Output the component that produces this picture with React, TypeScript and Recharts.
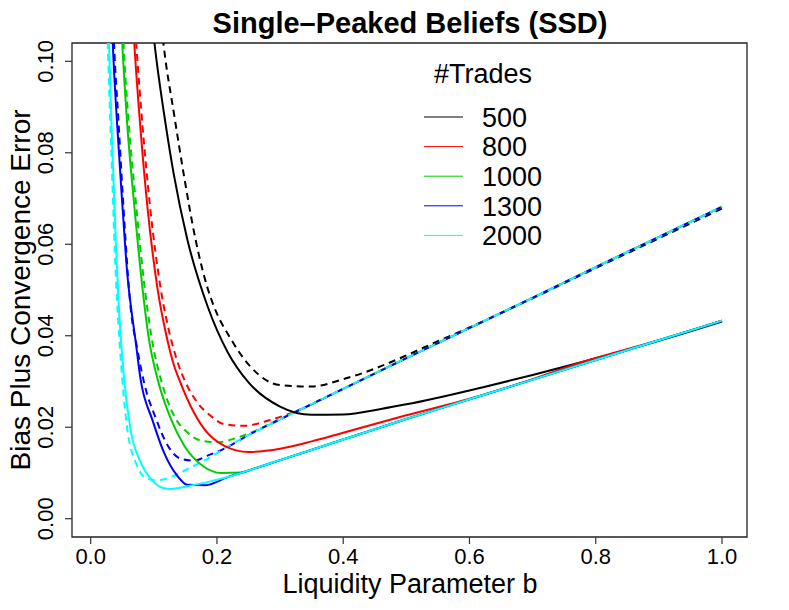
import React from "react";
import { LineChart, Line, XAxis, YAxis, ReferenceArea } from "recharts";

// axis ranges (R-style 4% padding around 0.01..1 and 0..0.10)
const xMin = -0.0296;
const xMax = 1.0396;
const yMin = -0.004;
const yMax = 0.104;

const xTicks = [0, 0.2, 0.4, 0.6, 0.8, 1.0];
const yTicks = [0, 0.02, 0.04, 0.06, 0.08, 0.1];

const tradeCounts = ["500", "800", "1000", "1300", "2000"];
const seriesColors = ["#000000", "#FF0000", "#00CD00", "#0000FF", "#00FFFF"];

// [b, error]; solid = one estimator, dashed = the other
const solid500 = [
  [0.09, 0.119], [0.101, 0.104], [0.119, 0.086], [0.132, 0.075], [0.153, 0.0611],
  [0.185, 0.0465], [0.217, 0.0364], [0.25, 0.0298], [0.3, 0.0245], [0.35, 0.0227],
  [0.4, 0.0228], [0.46, 0.024], [0.5, 0.025], [0.62, 0.0287], [0.7, 0.0314],
  [0.78, 0.0343], [0.9, 0.0389], [1.0, 0.0431],
];
const dashed500 = [
  [0.105, 0.118], [0.116, 0.103], [0.132, 0.0885], [0.148, 0.0748], [0.166, 0.0611],
  [0.185, 0.0505], [0.195, 0.0465], [0.222, 0.0393], [0.254, 0.0331], [0.3, 0.0292],
  [0.35, 0.0289], [0.4, 0.0305], [0.45, 0.0328], [0.5, 0.0357], [0.55, 0.0388],
  [0.6, 0.0418], [0.7, 0.0482], [0.8, 0.0548], [0.9, 0.0613], [1.0, 0.0678],
];
const solid800 = [
  [0.062, 0.121], [0.069, 0.104], [0.079, 0.085], [0.09, 0.068], [0.106, 0.0502],
  [0.12, 0.04], [0.132, 0.0335], [0.14, 0.0305], [0.158, 0.0247], [0.18, 0.0196],
  [0.211, 0.016], [0.25, 0.0146], [0.3, 0.0153], [0.35, 0.0169], [0.4, 0.0188],
  [0.46, 0.0211], [0.5, 0.0226], [0.62, 0.027], [0.7, 0.0305], [0.78, 0.0343],
  [0.9, 0.039], [1.0, 0.0433],
];
const dashed800 = [
  [0.064, 0.12], [0.072, 0.104], [0.082, 0.086], [0.094, 0.0683], [0.111, 0.0502],
  [0.125, 0.0405], [0.137, 0.0345], [0.148, 0.0305], [0.169, 0.0254], [0.19, 0.0225],
  [0.211, 0.0207], [0.243, 0.0203], [0.28, 0.0214], [0.32, 0.0232], [0.4, 0.0284],
  [0.5, 0.0351], [0.6, 0.0417], [0.7, 0.0483], [0.8, 0.055], [0.9, 0.0616], [1.0, 0.0682],
];
const solid1000 = [
  [0.045, 0.12], [0.05, 0.104], [0.058, 0.086], [0.068, 0.07], [0.08, 0.053],
  [0.092, 0.0395], [0.106, 0.0305], [0.127, 0.0218], [0.148, 0.016], [0.18, 0.0113],
  [0.206, 0.01], [0.238, 0.0101], [0.26, 0.011], [0.3, 0.0128], [0.4, 0.0173],
  [0.5, 0.0218], [0.6, 0.0261], [0.7, 0.0304], [0.8, 0.0347], [0.9, 0.039], [1.0, 0.0433],
];
const dashed1000 = [
  [0.047, 0.12], [0.052, 0.104], [0.06, 0.087], [0.071, 0.07], [0.083, 0.0535],
  [0.096, 0.04], [0.114, 0.0291], [0.132, 0.0225], [0.153, 0.0189], [0.174, 0.0171],
  [0.201, 0.0167], [0.227, 0.0175], [0.25, 0.0186], [0.3, 0.0218], [0.4, 0.0284],
  [0.5, 0.0351], [0.6, 0.0417], [0.7, 0.0483], [0.8, 0.055], [0.9, 0.0616], [1.0, 0.0682],
];
const solid1300 = [
  [0.031, 0.12], [0.035, 0.104], [0.042, 0.086], [0.05, 0.069], [0.058, 0.0535],
  [0.066, 0.044], [0.071, 0.039], [0.079, 0.0305], [0.098, 0.0215], [0.116, 0.0145],
  [0.137, 0.0094], [0.153, 0.0074], [0.18, 0.0073], [0.217, 0.0091], [0.26, 0.011],
  [0.3, 0.0128], [0.4, 0.0173], [0.5, 0.0218], [0.6, 0.0261], [0.7, 0.0304],
  [0.8, 0.0347], [0.9, 0.039], [1.0, 0.0433],
];
const dashed1300 = [
  [0.033, 0.12], [0.037, 0.104], [0.044, 0.087], [0.052, 0.068], [0.063, 0.0465],
  [0.074, 0.037], [0.085, 0.0295], [0.103, 0.022], [0.122, 0.016], [0.143, 0.0131],
  [0.164, 0.0127], [0.185, 0.0138], [0.21, 0.0152], [0.25, 0.0183], [0.3, 0.0217],
  [0.4, 0.0284], [0.5, 0.0351], [0.6, 0.0417], [0.7, 0.0483], [0.8, 0.055],
  [0.9, 0.0616], [1.0, 0.0682],
];
const solid2000 = [
  [0.026, 0.12], [0.029, 0.104], [0.033, 0.086], [0.037, 0.071], [0.04, 0.06],
  [0.044, 0.048], [0.048, 0.039], [0.053, 0.0305], [0.063, 0.0196], [0.079, 0.0124],
  [0.1, 0.008], [0.115, 0.0067], [0.127, 0.0065], [0.153, 0.0071], [0.185, 0.008],
  [0.217, 0.0091], [0.26, 0.011], [0.3, 0.0128], [0.4, 0.0173], [0.5, 0.0218],
  [0.6, 0.0261], [0.7, 0.0304], [0.8, 0.0347], [0.9, 0.039], [1.0, 0.0433],
];
const dashed2000 = [
  [0.024, 0.12], [0.027, 0.104], [0.031, 0.087], [0.035, 0.071], [0.038, 0.059],
  [0.042, 0.047], [0.046, 0.038], [0.05, 0.0305], [0.058, 0.0196], [0.071, 0.0124],
  [0.09, 0.0087], [0.106, 0.0084], [0.132, 0.0094], [0.158, 0.0112], [0.185, 0.0131],
  [0.21, 0.0152], [0.25, 0.0183], [0.3, 0.0217], [0.4, 0.0284], [0.5, 0.0351],
  [0.6, 0.0417], [0.7, 0.0483], [0.8, 0.055], [0.9, 0.0616], [1.0, 0.0682],
];

const solidSeries = [solid500, solid800, solid1000, solid1300, solid2000];
const dashedSeries = [dashed500, dashed800, dashed1000, dashed1300, dashed2000];

const W = 789;
const H = 610;
const FONT = '"Liberation Sans", Arial, Helvetica, sans-serif';

const toRows = (pts: number[][]) => pts.map(([b, v]) => ({ b, v }));

const XTick = (props: any) => {
  const { x, y, payload } = props;
  return (
    <text x={x} y={y} dy={18} textAnchor="middle" fontSize={22} fill="#000" fontFamily={FONT}>
      {Number(payload.value).toFixed(1)}
    </text>
  );
};

const YTick = (props: any) => {
  const { y, payload } = props;
  const bx = 53;
  return (
    <text
      x={bx}
      y={y}
      transform={`rotate(-90 ${bx} ${y})`}
      textAnchor="middle"
      fontSize={22}
      fill="#000"
      fontFamily={FONT}
    >
      {Number(payload.value).toFixed(2)}
    </text>
  );
};

export default function App() {
  const legendTop = 117;
  const legendStep = 29.6;

  return (
    <div style={{ position: "absolute", left: 0, top: 0, width: W, height: H, background: "#fff" }}>
      <LineChart width={W} height={H} margin={{ top: 43, right: 42, bottom: 33, left: 32 }}>
        <XAxis
          type="number"
          dataKey="b"
          domain={[xMin, xMax]}
          ticks={xTicks}
          allowDataOverflow
          axisLine={false}
          tickSize={7}
          tickLine={{ stroke: "#333", strokeWidth: 1.2 }}
          height={40}
          tick={XTick}
        />
        <YAxis
          type="number"
          dataKey="v"
          domain={[yMin, yMax]}
          ticks={yTicks}
          allowDataOverflow
          axisLine={false}
          tickSize={7}
          tickLine={{ stroke: "#333", strokeWidth: 1.2 }}
          width={40}
          tick={YTick}
        />
        <ReferenceArea
          x1={xMin}
          x2={xMax}
          y1={yMin}
          y2={yMax}
          fill="none"
          stroke="#222"
          strokeWidth={1.3}
          ifOverflow="visible"
        />
        {dashedSeries.map((s, i) => (
          <Line
            key={`d${i}`}
            data={toRows(s)}
            dataKey="v"
            type="monotone"
            stroke={seriesColors[i]}
            strokeWidth={2}
            strokeDasharray="7 5"
            dot={false}
            activeDot={false}
            isAnimationActive={false}
          />
        ))}
        {solidSeries.map((s, i) => (
          <Line
            key={`s${i}`}
            data={toRows(s)}
            dataKey="v"
            type="monotone"
            stroke={seriesColors[i]}
            strokeWidth={2}
            dot={false}
            activeDot={false}
            isAnimationActive={false}
          />
        ))}
      </LineChart>

      <svg
        width={W}
        height={H}
        style={{ position: "absolute", left: 0, top: 0, pointerEvents: "none" }}
        fontFamily={FONT}
      >
        <text x={410} y={33} textAnchor="middle" fontSize={29} fontWeight="bold" fill="#000">
          Single–Peaked Beliefs (SSD)
        </text>
        <text x={410} y={593} textAnchor="middle" fontSize={27} fill="#000">
          Liquidity Parameter b
        </text>
        <text x={30} y={290} transform="rotate(-90 30 290)" textAnchor="middle" fontSize={28} fill="#000">
          Bias Plus Convergence Error
        </text>

        <text x={483} y={83} textAnchor="middle" fontSize={27} fill="#000">
          #Trades
        </text>
        {tradeCounts.map((label, i) => {
          const y = legendTop + i * legendStep;
          return (
            <g key={label}>
              <line x1={424} x2={463} y1={y} y2={y} stroke={seriesColors[i]} strokeWidth={1} />
              <text x={482} y={y + 9.7} fontSize={27} fill="#000">
                {label}
              </text>
            </g>
          );
        })}
      </svg>
    </div>
  );
}
